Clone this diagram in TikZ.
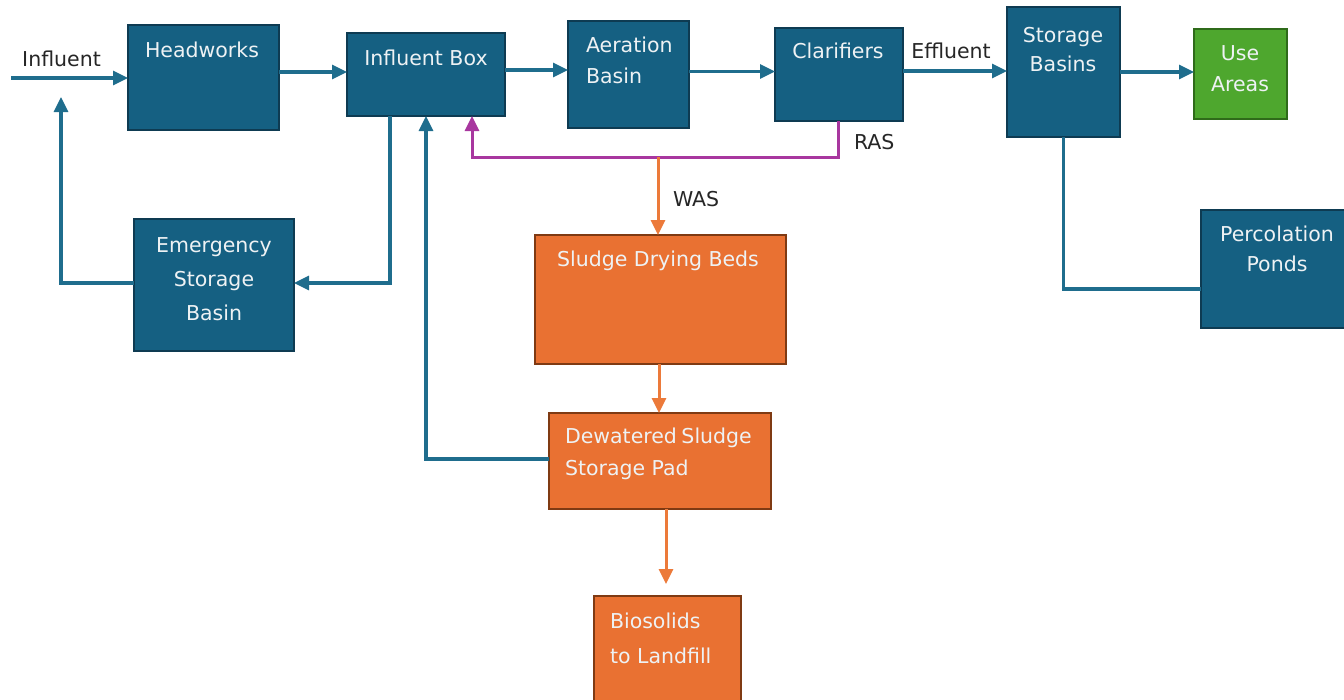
\documentclass[tikz,border=0pt]{standalone}
\usepackage{fontspec}
\setmainfont{DejaVu Sans}
\usetikzlibrary{arrows.meta}
\definecolor{boxblue}{HTML}{156082}
\definecolor{boxblueedge}{HTML}{0E3B52}
\definecolor{lineblue}{HTML}{1F6D8D}
\definecolor{boxorange}{HTML}{E97132}
\definecolor{boxorangeedge}{HTML}{7F3A13}
\definecolor{lineorange}{HTML}{EC7A3A}
\definecolor{boxgreen}{HTML}{4EA72E}
\definecolor{boxgreenedge}{HTML}{2F6B1A}
\definecolor{linemag}{HTML}{A8379F}
\definecolor{labelgray}{HTML}{262626}
\definecolor{boxtext}{HTML}{EEF2F4}
\tikzset{
  box/.style={rectangle, inner sep=0pt, outer sep=0pt, line width=1.1pt},
  bluebox/.style={box, fill=boxblue, draw=boxblueedge},
  orangebox/.style={box, fill=boxorange, draw=boxorangeedge},
  greenbox/.style={box, fill=boxgreen, draw=boxgreenedge},
  txt/.style={inner sep=0pt, outer sep=0pt, text=boxtext, anchor=base, font=\fontsize{20.5}{34}\selectfont},
  lbl/.style={inner sep=0pt, outer sep=0pt, text=labelgray, anchor=base, font=\fontsize{20.5}{34}\selectfont},
  tip/.style={-{Triangle[length=15pt,width=14pt]}},
  blueline/.style={draw=lineblue, line width=3.2pt},
  orangeline/.style={draw=lineorange, line width=3pt},
  magline/.style={draw=linemag, line width=3pt},
}
\begin{document}
\begin{tikzpicture}[x=1pt,y=-1pt]
\useasboundingbox (0,0) rectangle (1344,699);
\clip (0,0) rectangle (1344,699);
% boxes
\node[bluebox, minimum width=151pt, minimum height=105pt] (hw) at (203.5,77.5) {};
\node[bluebox, minimum width=158pt, minimum height=83pt] (ib) at (426,74.5) {};
\node[bluebox, minimum width=121pt, minimum height=107pt] (ab) at (628.5,74.5) {};
\node[bluebox, minimum width=128pt, minimum height=93pt] (cl) at (839,74.5) {};
\node[bluebox, minimum width=113pt, minimum height=130pt] (sb) at (1063.5,72) {};
\node[greenbox, minimum width=93pt, minimum height=90pt] (ua) at (1240.5,74) {};
\node[bluebox, minimum width=152pt, minimum height=118pt] (pp) at (1277,269) {};
\node[bluebox, minimum width=160pt, minimum height=132pt] (es) at (214,285) {};
\node[orangebox, minimum width=251pt, minimum height=129pt] (sd) at (660.5,299.5) {};
\node[orangebox, minimum width=222pt, minimum height=96pt] (dw) at (660,461) {};
\node[orangebox, minimum width=147pt, minimum height=124pt] (bl) at (667.5,658) {};
% box texts
\node[txt] (hwt) at (202,57) {Headworks};
\node[txt] (ibt) at (426,65) {Influent Box};
\node[txt, anchor=base west] (abt1) at (586,52) {Aeration};
\node[txt, anchor=base west] (abt2) at (586,83) {Basin};
\node[txt] (clt) at (838,58) {Clarifiers};
\node[txt] (sbt1) at (1063,42) {Storage};
\node[txt] (sbt2) at (1063,71) {Basins};
\node[txt] (uat1) at (1240,60) {Use};
\node[txt] (uat2) at (1240,91) {Areas};
\node[txt] (ppt1) at (1277,241) {Percolation};
\node[txt] (ppt2) at (1277,271) {Ponds};
\node[txt] (est1) at (214,252) {Emergency};
\node[txt] (est2) at (214,286) {Storage};
\node[txt] (est3) at (214,320) {Basin};
\node[txt] (sdt) at (658,266) {Sludge Drying Beds};
\node[txt, anchor=base west] (dwt1) at (565,443) {Dewatered\hspace{-2pt} Sludge};
\node[txt, anchor=base west] (dwt2) at (565,475) {Storage Pad};
\node[txt, anchor=base west] (blt1) at (610,628) {Biosolids};
\node[txt, anchor=base west] (blt2) at (610,663) {to Landfill};
% outside labels
\node[lbl] (linf) at (61.5,66) {Influent};
\node[lbl] (leff) at (951,58) {Effluent};
\node[lbl, anchor=base west] (lras) at (854,149) {RAS};
\node[lbl, anchor=base west] (lwas) at (673,206) {WAS};
% helper coordinates
\coordinate (in0) at (11,78);
\coordinate (a1) at ([yshift=5.5pt]hw.east);
\coordinate (a2) at ([yshift=4.5pt]ib.east);
\coordinate (a3) at ([yshift=3pt]ab.east);
\coordinate (a4) at ([yshift=3.5pt]cl.east);
\coordinate (ppin) at ([yshift=-20pt]pp.west);
\coordinate (ibdown) at ([xshift=-36pt]ib.south);
\coordinate (esin) at ([yshift=2pt]es.east);
\coordinate (esout) at ([yshift=2pt]es.west);
\coordinate (ret) at (61,97);
\coordinate (dwout) at ([yshift=2pt]dw.west);
\coordinate (clout) at ([xshift=-1pt]cl.south);
\coordinate (rasL) at (472,157);
\coordinate (wasT) at (658,157);
\coordinate (sdout) at (659,364);
\coordinate (blT) at (666,584);
% connectors
\draw[blueline, tip] (in0) -- (in0 -| hw.west);
\draw[blueline, tip] (a1) -- (a1 -| ib.west);
\draw[blueline, tip] (a2) -- (a2 -| ab.west);
\draw[blueline, tip] (a3) -- (a3 -| cl.west);
\draw[blueline, tip] (a4) -- (a4 -| sb.west);
\draw[blueline, tip] (sb.east) -- (sb.east -| ua.west);
\draw[blueline] (sb.south) |- (ppin);
\draw[blueline, tip] (ibdown) |- (esin);
\draw[blueline, tip] (esout) -| (ret);
\draw[blueline, tip] (dwout) -| (ib.south);
\draw[magline, tip] (clout) |- (rasL) -- (rasL |- ib.south);
\draw[orangeline, tip] (wasT) -- (wasT |- sd.north);
\draw[orangeline, tip] (sdout) -- (sdout |- dw.north);
\draw[orangeline, tip] (blT |- dw.south) -- (blT);
\end{tikzpicture}
\end{document}
